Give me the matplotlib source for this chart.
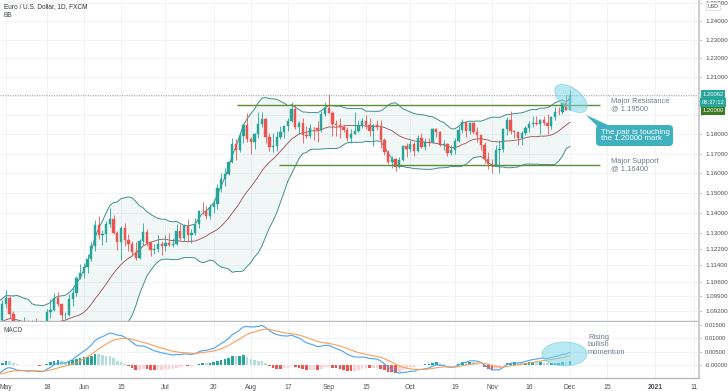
import numpy as np
import pandas as pd
import matplotlib
matplotlib.use("Agg")
import matplotlib.pyplot as plt
import matplotlib.transforms as mtransforms
from matplotlib.patches import Ellipse, Polygon, FancyBboxPatch
from matplotlib.ticker import FixedLocator, NullLocator, FixedFormatter

plt.rcParams["font.family"] = ["Liberation Sans", "DejaVu Sans"]

W, H = 728, 391

# closes before the visible window (Feb 3 - Apr 28 2020), only used to warm up BB / MACD
warmup_closes = [
    1.1060, 1.1045, 1.0998, 1.0980, 1.0945, 1.0910, 1.0915, 1.0873, 1.0840, 1.0830,
    1.0838, 1.0790, 1.0806, 1.0783, 1.0848, 1.0852, 1.0880, 1.0883, 1.0998, 1.1027,
    1.1137, 1.1174, 1.1136, 1.1238, 1.1285, 1.1450, 1.1284, 1.1269, 1.1186, 1.1105,
    1.1183, 1.0995, 1.0918, 1.0691, 1.0692, 1.0723, 1.0790, 1.0887, 1.1030, 1.1142,
    1.1043, 1.1031,
    1.0963, 1.0857, 1.0805, 1.0794, 1.0894, 1.0857, 1.0936, 1.0935, 1.0913, 1.0984,
    1.0906, 1.0863, 1.0876, 1.0863, 1.0855, 1.0822, 1.0777, 1.0821, 1.0827, 1.0822,
]

# daily candles, Apr 29 - Dec 1 2020
opens = [
    1.0822, 1.0875,
    1.0954, 1.0981, 1.0906, 1.0837, 1.0797, 1.0834, 1.0839, 1.0807, 1.0852, 1.0817, 1.0802,
    1.0819, 1.0916, 1.0924, 1.0982, 1.0951, 1.0899, 1.0901, 1.0978, 1.1006, 1.1078,
    1.1101, 1.1134, 1.1172, 1.1236, 1.1339, 1.1292, 1.1294, 1.1342, 1.1370, 1.1300, 1.1256,
    1.1325, 1.1264, 1.1245, 1.1204, 1.1176, 1.1259, 1.1307, 1.1250, 1.1218, 1.1220, 1.1244,
    1.1233, 1.1250, 1.1240, 1.1245, 1.1309, 1.1275, 1.1332, 1.1288, 1.1300, 1.1342, 1.1411,
    1.1410, 1.1383, 1.1427, 1.1445, 1.1525, 1.1569, 1.1596, 1.1655, 1.1750, 1.1717, 1.1791, 1.1847,
    1.1777, 1.1761, 1.1800, 1.1854, 1.1877, 1.1786, 1.1735, 1.1738, 1.1786, 1.1812, 1.1842,
    1.1870, 1.1930, 1.1835, 1.1856, 1.1795, 1.1793, 1.1834, 1.1830, 1.1821, 1.1903,
    1.1936, 1.1912, 1.1855, 1.1850, 1.1838, 1.1820, 1.1779, 1.1801, 1.1814, 1.1845, 1.1866,
    1.1846, 1.1815, 1.1848, 1.1839, 1.1768, 1.1707, 1.1659, 1.1670, 1.1632, 1.1667, 1.1740,
    1.1721, 1.1749, 1.1715, 1.1782, 1.1735, 1.1761, 1.1760, 1.1826, 1.1813, 1.1745, 1.1747,
    1.1705, 1.1717, 1.1767, 1.1822, 1.1861, 1.1815, 1.1859, 1.1813, 1.1794, 1.1746, 1.1672,
    1.1646, 1.1640, 1.1716, 1.1724, 1.1829, 1.1873, 1.1815, 1.1812, 1.1778, 1.1808, 1.1833,
    1.1855, 1.1859, 1.1851, 1.1874, 1.1858, 1.1842, 1.1890, 1.1916, 1.1915, 1.1963,
    1.1928,
]
highs = [
    1.0890, 1.0973,
    1.1019, 1.0990, 1.0921, 1.0848, 1.0845, 1.0891, 1.0875, 1.0875, 1.0888, 1.0830, 1.0834,
    1.0927, 1.0975, 1.1008, 1.1010, 1.0954, 1.0917, 1.1000, 1.1034, 1.1091, 1.1147,
    1.1153, 1.1198, 1.1257, 1.1362, 1.1384, 1.1316, 1.1361, 1.1422, 1.1390, 1.1312, 1.1335,
    1.1351, 1.1293, 1.1258, 1.1256, 1.1271, 1.1349, 1.1321, 1.1259, 1.1245, 1.1289, 1.1260,
    1.1290, 1.1302, 1.1275, 1.1346, 1.1345, 1.1345, 1.1371, 1.1318, 1.1375, 1.1415, 1.1452,
    1.1433, 1.1445, 1.1468, 1.1546, 1.1601, 1.1627, 1.1660, 1.1781, 1.1775, 1.1805, 1.1855, 1.1908,
    1.1783, 1.1806, 1.1916, 1.1916, 1.1883, 1.1806, 1.1808, 1.1818, 1.1843, 1.1843, 1.1882,
    1.1966, 1.1951, 1.1869, 1.1883, 1.1843, 1.1853, 1.1838, 1.1868, 1.1920, 1.1966,
    1.2011, 1.1920, 1.1872, 1.1882, 1.1847, 1.1839, 1.1828, 1.1917, 1.1872, 1.1882, 1.1900,
    1.1883, 1.1851, 1.1873, 1.1873, 1.1778, 1.1720, 1.1687, 1.1675, 1.1683, 1.1745, 1.1753,
    1.1772, 1.1761, 1.1796, 1.1808, 1.1781, 1.1780, 1.1831, 1.1830, 1.1814, 1.1770, 1.1757,
    1.1743, 1.1780, 1.1840, 1.1881, 1.1862, 1.1861, 1.1861, 1.1838, 1.1798, 1.1760, 1.1706,
    1.1672, 1.1742, 1.1770, 1.1831, 1.1891, 1.1920, 1.1822, 1.1813, 1.1815, 1.1840, 1.1870,
    1.1894, 1.1892, 1.1880, 1.1892, 1.1905, 1.1892, 1.1941, 1.1940, 1.1965, 1.2003,
    1.2032,
]
lows = [
    1.0812, 1.0862,
    1.0936, 1.0887, 1.0823, 1.0782, 1.0767, 1.0817, 1.0799, 1.0802, 1.0807, 1.0775, 1.0775,
    1.0806, 1.0887, 1.0918, 1.0946, 1.0870, 1.0881, 1.0894, 1.0942, 1.0990, 1.1075,
    1.1079, 1.1105, 1.1163, 1.1210, 1.1272, 1.1240, 1.1256, 1.1327, 1.1296, 1.1215, 1.1167,
    1.1233, 1.1212, 1.1184, 1.1168, 1.1170, 1.1242, 1.1237, 1.1184, 1.1197, 1.1205, 1.1190,
    1.1211, 1.1234, 1.1230, 1.1242, 1.1264, 1.1261, 1.1256, 1.1252, 1.1290, 1.1322, 1.1394,
    1.1370, 1.1368, 1.1399, 1.1421, 1.1507, 1.1536, 1.1589, 1.1654, 1.1666, 1.1710, 1.1754, 1.1761,
    1.1696, 1.1723, 1.1782, 1.1836, 1.1755, 1.1711, 1.1710, 1.1712, 1.1773, 1.1779, 1.1815,
    1.1863, 1.1827, 1.1802, 1.1753, 1.1781, 1.1780, 1.1770, 1.1762, 1.1811, 1.1897,
    1.1910, 1.1788, 1.1789, 1.1781, 1.1811, 1.1765, 1.1753, 1.1800, 1.1809, 1.1832, 1.1826,
    1.1789, 1.1737, 1.1820, 1.1727, 1.1695, 1.1647, 1.1627, 1.1612, 1.1627, 1.1664, 1.1683,
    1.1708, 1.1686, 1.1709, 1.1730, 1.1720, 1.1740, 1.1755, 1.1785, 1.1738, 1.1720, 1.1688,
    1.1695, 1.1700, 1.1761, 1.1808, 1.1783, 1.1802, 1.1802, 1.1759, 1.1717, 1.1650, 1.1622,
    1.1602, 1.1637, 1.1603, 1.1710, 1.1797, 1.1801, 1.1779, 1.1745, 1.1745, 1.1797, 1.1810,
    1.1836, 1.1845, 1.1800, 1.1845, 1.1803, 1.1827, 1.1876, 1.1902, 1.1906, 1.1924,
    1.1925,
]
closes = [
    1.0875, 1.0954,
    1.0981, 1.0906, 1.0837, 1.0797, 1.0834, 1.0839, 1.0807, 1.0852, 1.0817, 1.0802, 1.0819,
    1.0916, 1.0924, 1.0982, 1.0951, 1.0899, 1.0901, 1.0978, 1.1006, 1.1078, 1.1101,
    1.1134, 1.1172, 1.1236, 1.1339, 1.1292, 1.1294, 1.1342, 1.1370, 1.1300, 1.1256, 1.1325,
    1.1264, 1.1245, 1.1204, 1.1176, 1.1259, 1.1307, 1.1250, 1.1218, 1.1220, 1.1244, 1.1233,
    1.1250, 1.1240, 1.1245, 1.1309, 1.1275, 1.1332, 1.1288, 1.1300, 1.1342, 1.1411, 1.1410,
    1.1383, 1.1427, 1.1445, 1.1525, 1.1569, 1.1596, 1.1655, 1.1750, 1.1717, 1.1791, 1.1847, 1.1777,
    1.1761, 1.1800, 1.1854, 1.1877, 1.1786, 1.1735, 1.1738, 1.1786, 1.1812, 1.1842, 1.1870,
    1.1930, 1.1835, 1.1856, 1.1795, 1.1793, 1.1834, 1.1830, 1.1821, 1.1903, 1.1936,
    1.1912, 1.1855, 1.1850, 1.1838, 1.1820, 1.1779, 1.1801, 1.1814, 1.1845, 1.1866, 1.1846,
    1.1815, 1.1848, 1.1839, 1.1768, 1.1707, 1.1659, 1.1670, 1.1632, 1.1667, 1.1740, 1.1721,
    1.1749, 1.1715, 1.1782, 1.1735, 1.1761, 1.1760, 1.1826, 1.1813, 1.1745, 1.1747, 1.1705,
    1.1717, 1.1767, 1.1822, 1.1861, 1.1815, 1.1859, 1.1813, 1.1794, 1.1746, 1.1672, 1.1646,
    1.1640, 1.1716, 1.1724, 1.1829, 1.1873, 1.1815, 1.1812, 1.1778, 1.1808, 1.1833, 1.1855,
    1.1859, 1.1851, 1.1874, 1.1858, 1.1842, 1.1890, 1.1916, 1.1915, 1.1963, 1.1928,
    1.2006,
]

last_price = 1.20062
resistance = 1.195
support = 1.164

price_ticks = [1.25, 1.24, 1.23, 1.22, 1.21, 1.20, 1.19, 1.18, 1.17, 1.16, 1.15, 1.14,
               1.13, 1.122, 1.114, 1.106, 1.099, 1.092]
price_labels = ["1.25000", "1.24000", "1.23000", "1.22000", "1.21000", "", "", "1.18000",
                "1.17000", "1.16000", "1.15000", "1.14000", "1.13000", "1.12200", "1.11400",
                "1.10600", "1.09900", "1.09200"]
macd_ticks = [0.0, 0.005, 0.01, 0.015]
macd_labels = ["-0.00000", "0.00500", "0.01000", "0.01500"]
# bar index counted from May 1 2020
date_ticks = [0, 11, 21, 31, 43, 56, 66, 76, 87, 97, 109, 121, 131, 141, 152, 162, 175, 185.5]
date_labels = ["May", "18", "Jun", "15", "Jul", "20", "Aug", "17", "Sep", "15", "Oct", "19",
               "Nov", "16", "Dec", "15", "2021", "11"]

UP, DOWN = "#26a69a", "#ef5350"
GRID = "#f0f1f4"
TEXT = "#4a4e57"
NOTE = "#6c7b8d"

o, h, l, c = (np.array(a) for a in (opens, highs, lows, closes))
idx = np.arange(len(c)) - 2
all_close = pd.Series(np.r_[warmup_closes, closes])
all_idx = np.arange(len(all_close)) - len(warmup_closes) - 2

# Bollinger Bands 20, 2
mid = all_close.rolling(20).mean()
sd = all_close.rolling(20).std(ddof=0)
bb_up, bb_lo = mid + 2 * sd, mid - 2 * sd

# MACD 12, 26, 9
macd = all_close.ewm(span=12, adjust=False).mean() - all_close.ewm(span=26, adjust=False).mean()
signal = macd.ewm(span=9, adjust=False).mean()
hist = (macd - signal).values
prev = np.r_[hist[0], hist[:-1]]
hist_cols = np.where(hist >= 0,
                     np.where(hist > prev, "#26a69a", "#b2dfdb"),
                     np.where(hist < prev, "#ef5350", "#ffcdd2"))

fig = plt.figure(figsize=(W / 100, H / 100), dpi=100)
ax = fig.add_axes([0, 1 - 321 / H, 699 / W, 321 / H])
axm = fig.add_axes([0, 1 - 378 / H, 699 / W, 56 / H], sharex=ax)
px = mtransforms.Affine2D().scale(1 / W, -1 / H).translate(0, 1) + fig.transFigure

# price pane
ax.set_yscale("log")
ax.fill_between(all_idx, bb_lo, bb_up, color="#198787", alpha=0.06, lw=0)
ax.plot(all_idx, bb_up, color="#3f8f8c", lw=0.7)
ax.plot(all_idx, bb_lo, color="#3f8f8c", lw=0.7)
ax.plot(all_idx, mid, color="#9b4b4b", lw=0.6)

cols = np.where(c >= o, UP, DOWN)
ax.vlines(idx, l, h, color=cols, lw=0.6, zorder=3)
ax.bar(idx, c - o, bottom=o, width=0.62, color=cols, edgecolor=cols, lw=0.3, zorder=4)

ax.axhline(last_price, color="#9aa0a8", lw=0.7, ls=(0, (1, 1.5)), zorder=2)
ax.hlines(resistance, 62.4, 160, color="#5e8c3a", lw=1.0, zorder=5)
ax.hlines(support, 73.5, 160, color="#5e8c3a", lw=1.0, zorder=5)
ax.text(163, resistance, "Major Resistance\n@ 1.19500", fontsize=5.4, color=NOTE,
        va="center", ha="left", linespacing=1.0)
ax.text(163, support, "Major Support\n@ 1.16400", fontsize=5.4, color=NOTE,
        va="center", ha="left", linespacing=1.0)

ax.set_ylim(1.0872, 1.2515)
ax.set_xlim(-1.6, 186.8)
ax.yaxis.set_major_locator(FixedLocator(price_ticks))
ax.yaxis.set_major_formatter(FixedFormatter(price_labels))
ax.yaxis.set_minor_locator(NullLocator())
ax.yaxis.set_minor_formatter(FixedFormatter([]))

# MACD pane
axm.bar(all_idx, hist, width=0.7, color=hist_cols, lw=0)
axm.plot(all_idx, macd, color="#4aa3f0", lw=0.8)
axm.plot(all_idx, signal, color="#f5a05a", lw=0.8)
axm.set_ylim(-0.00487, 0.01612)
axm.set_yticks(macd_ticks)
axm.set_yticklabels(macd_labels)
axm.set_xticks(date_ticks)
axm.set_xticklabels(date_labels)
for lab in axm.get_xticklabels():
    if lab.get_text() == "2021":
        lab.set_fontweight("bold")

for a in (ax, axm):
    a.set_facecolor("white")
    a.grid(True, color=GRID, lw=0.6)
    a.set_axisbelow(True)
    a.yaxis.tick_right()
    a.tick_params(axis="y", length=2.5, width=0.5, color="#b5b8bf", labelsize=4.5,
                  labelcolor=TEXT, pad=2)
    a.tick_params(axis="x", length=0, labelsize=4.9, labelcolor=TEXT, pad=4)
    for s in ("top", "left"):
        a.spines[s].set_visible(False)
    a.spines["right"].set_color("#c9ccd3")
    a.spines["right"].set_linewidth(1.4)
    a.spines["bottom"].set_color("#b8bbc2")
    a.spines["bottom"].set_linewidth(1.0)
ax.tick_params(axis="x", labelbottom=False)
axm.tick_params(axis="y", labelsize=4.2, pad=1.5)

# labels and annotations in pixel space
fig.text(4, 7, "Euro / U.S. Dollar, 1D, FXCM", transform=px, fontsize=4.7, color="#2f3340",
         va="center")
fig.text(4, 15.5, "BB", transform=px, fontsize=4.7, color=TEXT, va="center")
fig.text(4, 330, "MACD", transform=px, fontsize=4.7, color=TEXT, va="center")
fig.text(713, 6, "USD", transform=px, fontsize=3.8, color=TEXT, ha="center", va="center",
         zorder=10, bbox=dict(boxstyle="square,pad=0.35", fc="white", ec="#d0d3da", lw=0.5))

for y, label, fc in [(94, "1.20062", "#26a69a"), (102.5, "06:37:12", "#26a69a"),
                     (111, "1.20000", "#3b7a22")]:
    fig.text(713, y, label, transform=px, fontsize=4.2, color="white", ha="center",
             va="center", bbox=dict(boxstyle="square,pad=0.3", fc=fc, ec="none"))

fig.add_artist(Ellipse((571, 98.5), 38, 20, angle=38, transform=px, fc="#7fd8e8",
                       ec="#55c3d8", lw=0.6, alpha=0.55))
fig.add_artist(Ellipse((564.5, 354), 45, 24, angle=0, transform=px, fc="#7fd8e8",
                       ec="#55c3d8", lw=0.6, alpha=0.55))

fig.add_artist(Polygon([(586, 115), (597, 126), (610, 126)], closed=True, transform=px,
                       fc="#3fb0bd", ec="none"))
fig.add_artist(FancyBboxPatch((596, 125), 77, 21, boxstyle="round,pad=0,rounding_size=4",
                              transform=px, fc="#3fb0bd", ec="none"))
fig.text(601, 135.5, "The pair is touching\nthe 1.20000 mark", transform=px, fontsize=5.7,
         color="white", ha="left", va="center", linespacing=1.0)
fig.text(588, 345, "Rising\nbullish\nmomentum", transform=px, fontsize=5.4, color=NOTE,
         ha="left", va="center", linespacing=1.05)

fig.savefig("out.png", dpi=100, facecolor="white")
